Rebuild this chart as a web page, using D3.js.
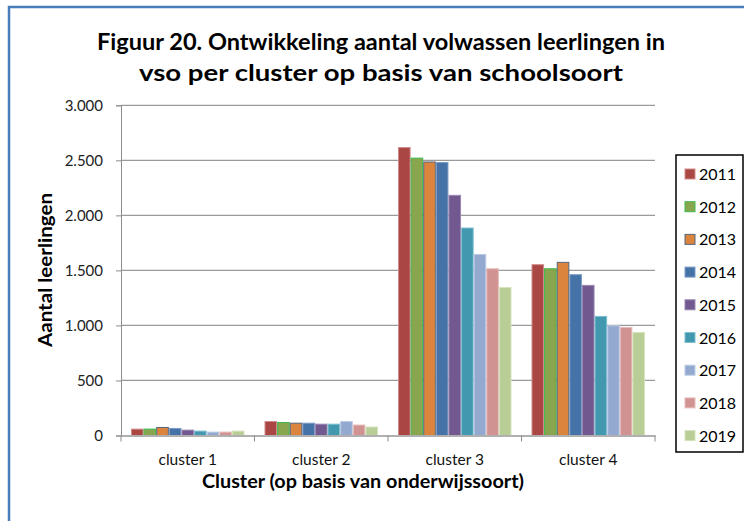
<!DOCTYPE html>
<html>
<head>
<meta charset="utf-8">
<script src="https://cdn.jsdelivr.net/npm/d3@7"></script>
<style>
  body { margin: 0; background: #fff; }
  svg { display: block; }
  .axis text { font-family: Lato, "Open Sans", sans-serif; }
</style>
</head>
<body>
<svg id="chart" width="744" height="521"></svg>
<script>
// data
var clusters = ["cluster 1", "cluster 2", "cluster 3", "cluster 4"];
var years = ["2011", "2012", "2013", "2014", "2015", "2016", "2017", "2018", "2019"];
var values2011 = [58, 127, 2616, 1552];
var values2012 = [58, 118, 2520, 1515];
var values2013 = [73, 112, 2485, 1573];
var values2014 = [64, 112, 2480, 1461];
var values2015 = [49, 103, 2182, 1364];
var values2016 = [40, 103, 1885, 1082];
var values2017 = [31, 127, 1645, 997];
var values2018 = [31, 95, 1515, 982];
var values2019 = [40, 77, 1345, 936];
var yTicks = [0, 500, 1000, 1500, 2000, 2500, 3000];

var seriesValues = [values2011, values2012, values2013, values2014, values2015,
    values2016, values2017, values2018, values2019];

// excel 2007 style palette
var fills = ["#AA4643", "#89A54E", "#DB843D", "#4572A7", "#71588F", "#4198AF", "#93A9CF", "#D19392", "#B9CD96"];
var strokes = ["#d08c8a", "#3dba4c", "#55667f", "#7c9cc6", "#9a88b3", "#7fbfd0", "#bccbe6", "#e6bcbb", "#d5e3be"];

var svg = d3.select("#chart");

var plotLeft = 121, plotRight = 655, plotTop = 105.3, plotBottom = 435.5;

// outer frame, only top and left visible
svg.append("path")
    .attr("d", "M9,521 V7 H744")
    .attr("fill", "none")
    .attr("stroke", "#4a7ebb")
    .attr("stroke-width", 2.5);

// title
var titleLines = [
    { text: "Figuur 20. Ontwikkeling aantal volwassen leerlingen in", y: 50, w: 568 },
    { text: "vso per cluster op basis van schoolsoort", y: 81, w: 484 }
];
titleLines.forEach(function(t) {
    svg.append("text")
        .attr("x", 381)
        .attr("y", t.y)
        .attr("text-anchor", "middle")
        .attr("font-family", "Lato, 'Open Sans', sans-serif")
        .attr("font-size", "23px")
        .attr("font-weight", "bold")
        .attr("fill", "#000")
        .attr("textLength", t.w)
        .attr("lengthAdjust", "spacingAndGlyphs")
        .text(t.text);
});

var yScale = d3.scaleLinear().domain([0, 3000]).range([plotBottom, plotTop]);
var xScale = d3.scaleBand().domain(clusters).range([plotLeft, plotRight]).padding(0);
var innerScale = d3.scaleBand().domain(years).range([10, xScale.bandwidth() - 10]).padding(0);

// gridlines
svg.append("g")
    .attr("class", "grid")
    .selectAll("line")
    .data(yTicks.filter(function(d) { return d > 0; }))
    .enter().append("line")
    .attr("x1", plotLeft)
    .attr("x2", plotRight)
    .attr("y1", function(d) { return yScale(d); })
    .attr("y2", function(d) { return yScale(d); })
    .attr("stroke", "#9a9a9a")
    .attr("stroke-width", 1.3);

// y axis
var yAxis = d3.axisLeft(yScale)
    .tickValues(yTicks)
    .tickSize(5)
    .tickPadding(13)
    .tickFormat(function(d) { return d3.format(",")(d).replace(/,/g, "."); });

var gy = svg.append("g")
    .attr("class", "axis")
    .attr("transform", "translate(" + plotLeft + ",0)")
    .call(yAxis);
gy.select(".domain").attr("stroke", "#8c8c8c");
gy.selectAll(".tick line").attr("stroke", "#8c8c8c");
gy.selectAll(".tick text")
    .attr("font-size", "15px")
    .attr("fill", "#222");

// bars
var groups = svg.append("g")
    .selectAll("g")
    .data(clusters)
    .enter().append("g")
    .attr("transform", function(d) { return "translate(" + xScale(d) + ",0)"; });

groups.selectAll("rect")
    .data(function(c, ci) {
        return years.map(function(y, yi) { return { year: y, i: yi, value: seriesValues[yi][ci] }; });
    })
    .enter().append("rect")
    .attr("x", function(d) { return innerScale(d.year) + 0.5; })
    .attr("y", function(d) { return yScale(d.value); })
    .attr("width", innerScale.bandwidth() - 1)
    .attr("height", function(d) { return plotBottom - yScale(d.value); })
    .attr("fill", function(d) { return fills[d.i]; })
    .attr("stroke", function(d) { return strokes[d.i]; })
    .attr("stroke-width", 1);

// x axis
var xAxis = d3.axisBottom(xScale).tickSize(0).tickPadding(18);
var gx = svg.append("g")
    .attr("class", "axis")
    .attr("transform", "translate(0," + plotBottom + ")")
    .call(xAxis);
gx.select(".domain").attr("stroke", "#b0b0b0").attr("stroke-width", 2);
gx.selectAll(".tick text")
    .attr("font-size", "15.5px")
    .attr("fill", "#111");

// tick marks between the clusters
svg.append("g")
    .selectAll("line")
    .data(clusters.concat(["end"]))
    .enter().append("line")
    .attr("x1", function(d, i) { return i < clusters.length ? xScale(d) : plotRight; })
    .attr("x2", function(d, i) { return i < clusters.length ? xScale(d) : plotRight; })
    .attr("y1", plotBottom)
    .attr("y2", plotBottom + 6)
    .attr("stroke", "#8c8c8c");

// axis titles
svg.append("text")
    .attr("x", 363)
    .attr("y", 488)
    .attr("text-anchor", "middle")
    .attr("font-family", "Lato, 'Open Sans', sans-serif")
    .attr("font-size", "18px")
    .attr("font-weight", "bold")
    .attr("textLength", 322)
    .attr("lengthAdjust", "spacingAndGlyphs")
    .text("Cluster (op basis van onderwijssoort)");

svg.append("text")
    .attr("transform", "translate(52,270) rotate(-90)")
    .attr("text-anchor", "middle")
    .attr("font-family", "Lato, 'Open Sans', sans-serif")
    .attr("font-size", "18px")
    .attr("font-weight", "bold")
    .attr("textLength", 154)
    .attr("lengthAdjust", "spacingAndGlyphs")
    .text("Aantal leerlingen");

// legend
var legend = svg.append("g").attr("transform", "translate(676,155)");
legend.append("rect")
    .attr("x", 0)
    .attr("y", 0)
    .attr("width", 67)
    .attr("height", 297)
    .attr("fill", "#fff")
    .attr("stroke", "#000")
    .attr("stroke-width", 1.5);

var items = legend.selectAll(".item")
    .data(years)
    .enter().append("g")
    .attr("class", "item")
    .attr("transform", function(d, i) { return "translate(0," + (19 + i * 32.7) + ")"; });

items.append("rect")
    .attr("x", 9)
    .attr("y", -5)
    .attr("width", 10)
    .attr("height", 10)
    .attr("fill", function(d, i) { return fills[i]; })
    .attr("stroke", function(d, i) { return strokes[i]; });

items.append("text")
    .attr("x", 23)
    .attr("y", 6)
    .attr("font-family", "Lato, 'Open Sans', sans-serif")
    .attr("font-size", "16px")
    .attr("fill", "#000")
    .text(function(d) { return d; });
</script>
</body>
</html>
